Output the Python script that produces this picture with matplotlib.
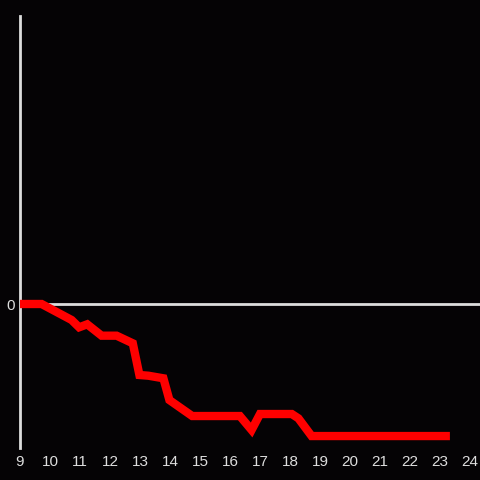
import matplotlib
matplotlib.use("Agg")
import matplotlib.pyplot as plt

x_vals = [9.0, 9.72, 10.72, 10.97, 11.24, 11.72, 12.22, 12.76, 12.98, 13.28, 13.78,
          13.98, 14.26, 14.74, 16.33, 16.72, 17.0, 18.06, 18.28, 18.72, 23.33]
y_vals = [0.0, 0.0, -1.11, -1.62, -1.41, -2.2, -2.2, -2.73, -4.93, -4.98, -5.16,
          -6.67, -7.08, -7.78, -7.78, -8.75, -7.64, -7.64, -7.94, -9.17, -9.17]
x_ticks = list(range(9, 25))

bg = "#050305"
fg = "#dddddd"

fig = plt.figure(figsize=(4.8, 4.8), dpi=100, facecolor=bg)
ax = fig.add_axes([20/480, 32/480, 460/480, 432/480], facecolor=bg)
ax.plot(x_vals, y_vals, color="#ff0000", lw=6, solid_joinstyle="miter",
        solid_capstyle="butt", zorder=3)
ax.axhline(0, color=fg, lw=2, zorder=2)
ax.set_xlim(9, 9 + 460/30)
ax.set_ylim(-10, 20)
for s in ["top", "right", "bottom"]:
    ax.spines[s].set_visible(False)
ax.spines["left"].set_color(fg)
ax.spines["left"].set_linewidth(2)
ax.set_xticks(x_ticks)
ax.set_xticklabels([str(t) for t in x_ticks])
ax.set_yticks([0])
ax.set_yticklabels(["0"])
ax.tick_params(axis="both", length=0, colors=fg, labelsize=11)
ax.tick_params(axis="x", pad=5)
ax.tick_params(axis="y", pad=4)
for lab in ax.get_xticklabels() + ax.get_yticklabels():
    lab.set_fontfamily("Liberation Sans")
fig.savefig("out.png", dpi=100, facecolor=bg)
